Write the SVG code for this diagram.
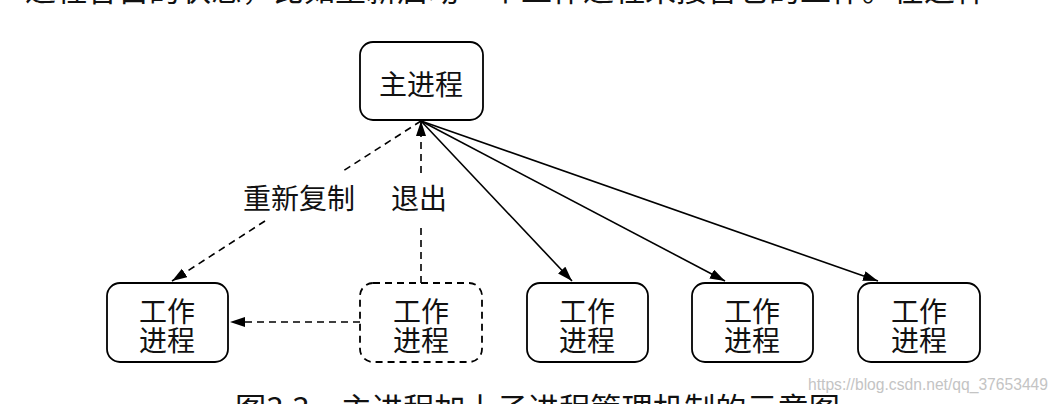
<svg xmlns="http://www.w3.org/2000/svg" width="1058" height="404" viewBox="0 0 1058 404">
<style>
.box{fill:#fff;stroke:#000;stroke-width:1.8}
.dbox{fill:#fff;stroke:#000;stroke-width:1.8;stroke-dasharray:7 5}
.t{font-family:"Noto Sans CJK SC","Noto Sans CJK JP",sans-serif;font-size:28px;fill:#111;text-anchor:middle}
.t2{font-family:"Liberation Sans","Noto Sans CJK SC",sans-serif;font-size:28px;fill:#111;text-anchor:middle}
.big{font-family:"Noto Sans CJK SC","Noto Sans CJK JP",sans-serif;font-size:31px;fill:#111}
.solid{fill:none;stroke:#000;stroke-width:1.6}
.dash{fill:none;stroke:#000;stroke-width:1.6;stroke-dasharray:7 5}
.wm{font-family:"Liberation Sans",sans-serif;font-size:17px;fill:#c4c4c4}
</style>
<defs>
<marker id="ah" markerUnits="userSpaceOnUse" markerWidth="16" markerHeight="12" refX="15" refY="5" orient="auto">
<path d="M0,0 L15,5 L0,10 z" fill="#000"/>
</marker>
</defs>
<rect width="1058" height="404" fill="#fff"/>
<text class="big" x="25" y="1">进程各自的状态，比如重新启动一个工作进程来接替它的工作。在这种</text>
<g id="connectors">
<line class="dash" x1="421" y1="121" x2="343" y2="171"/>
<line class="dash" x1="265" y1="221" x2="172" y2="281" marker-end="url(#ah)"/>
<line class="dash" x1="421" y1="283" x2="421" y2="225"/>
<line class="dash" x1="421" y1="173" x2="421" y2="121" marker-end="url(#ah)"/>
<line class="dash" x1="360" y1="322" x2="230" y2="322" marker-end="url(#ah)"/>
<line class="solid" x1="421" y1="121" x2="572" y2="281" marker-end="url(#ah)"/>
<line class="solid" x1="421" y1="121" x2="725" y2="281" marker-end="url(#ah)"/>
<line class="solid" x1="421" y1="121" x2="878" y2="281" marker-end="url(#ah)"/>
<text class="t" x="299" y="209">重新复制</text>
<text class="t" x="419" y="209">退出</text>
</g>
<g id="main">
<rect class="box" x="360" y="42" width="123" height="78" rx="13"/>
<text class="t" x="421" y="95">主进程</text>
</g>
<g id="w1">
<rect class="box" x="107" y="283" width="121" height="79" rx="13"/>
<text class="t2" x="167" y="322">工作<tspan x="167" dy="29">进程</tspan></text>
</g>
<g id="w2">
<rect class="dbox" x="360" y="283" width="122" height="79" rx="13"/>
<text class="t2" x="421" y="322">工作<tspan x="421" dy="29">进程</tspan></text>
</g>
<g id="w3">
<rect class="box" x="527" y="283" width="121" height="79" rx="13"/>
<text class="t2" x="587" y="322">工作<tspan x="587" dy="29">进程</tspan></text>
</g>
<g id="w4">
<rect class="box" x="692" y="283" width="121" height="79" rx="13"/>
<text class="t2" x="752" y="322">工作<tspan x="752" dy="29">进程</tspan></text>
</g>
<g id="w5">
<rect class="box" x="858" y="283" width="122" height="79" rx="13"/>
<text class="t2" x="919" y="322">工作<tspan x="919" dy="29">进程</tspan></text>
</g>
<text class="big" x="235" y="420" textLength="605" lengthAdjust="spacingAndGlyphs">图3.3　主进程加上子进程管理机制的示意图</text>
<text class="wm" x="808" y="390" textLength="240" lengthAdjust="spacingAndGlyphs">https://blog.csdn.net/qq_37653449</text>
</svg>
